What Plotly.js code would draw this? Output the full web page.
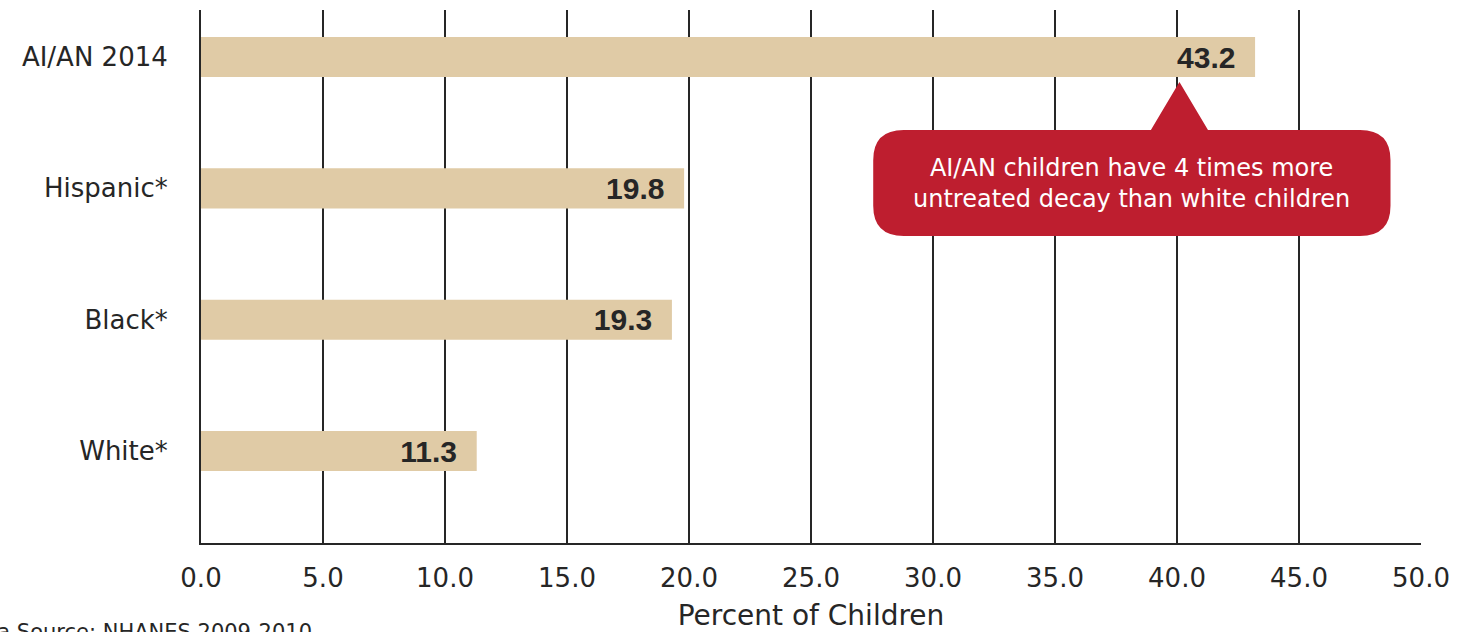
<!DOCTYPE html>
<html>
<head>
<meta charset="utf-8">
<script src="https://cdn.plot.ly/plotly-3.0.1.min.js"></script>
<style>html,body{margin:0;padding:0;background:#fff;}#chart{width:1461px;height:632px;}</style>
</head>
<body>
<div id="chart"></div>
<script>
// ---- data ----
const categories = ['AI/AN 2014', 'Hispanic*', 'Black*', 'White*'];
const values = [43.2, 19.8, 19.3, 11.3];
const xTickVals = [0, 5, 10, 15, 20, 25, 30, 35, 40, 45, 50];
const calloutLines = ['AI/AN children have 4 times more', 'untreated decay than white children'];
const sourceNote = 'Data Source: NHANES 2009-2010';
const axisTitle = 'Percent of Children';

// ---- styling ----
const ink = '#262626';
const barColor = '#E0CBA6';
const red = '#BE1E2F';
const sans = 'DejaVu Sans, Verdana, sans-serif';

const yPos = categories.map((c, i) => i);

// callout geometry in axis units
const bx0 = 27.55, bx1 = 48.75, by0 = 0.556, by1 = 1.363;
const rx = 1.25, ry = 0.23;
const tipX = 40.1, tipY = 0.19, tb0 = 38.93, tb1 = 41.27;
const calloutPath =
  `M ${bx0 + rx},${by0} L ${tb0},${by0} L ${tipX},${tipY} L ${tb1},${by0} L ${bx1 - rx},${by0} ` +
  `Q ${bx1},${by0} ${bx1},${by0 + ry} L ${bx1},${by1 - ry} Q ${bx1},${by1} ${bx1 - rx},${by1} ` +
  `L ${bx0 + rx},${by1} Q ${bx0},${by1} ${bx0},${by1 - ry} L ${bx0},${by0 + ry} Q ${bx0},${by0} ${bx0 + rx},${by0} Z`;

const trace = {
  type: 'bar',
  orientation: 'h',
  x: values,
  y: yPos,
  width: 0.305,
  marker: { color: barColor, line: { width: 0 } },
  text: values.map(v => v.toFixed(1)),
  texttemplate: '<b>%{text}</b>\u00a0\u00a0',
  textposition: 'inside',
  insidetextanchor: 'end',
  textangle: 0,
  constraintext: 'none',
  textfont: { family: 'Liberation Sans, Arial, sans-serif', size: 30, color: ink },
  hoverinfo: 'none'
};

const layout = {
  width: 1461,
  height: 632,
  margin: { l: 201, r: 40, t: 10, b: 89 },
  paper_bgcolor: '#ffffff',
  plot_bgcolor: '#ffffff',
  showlegend: false,
  font: { family: sans, color: ink },
  xaxis: {
    range: [0, 50],
    tickvals: xTickVals,
    tickformat: '.1f',
    showgrid: true,
    gridcolor: ink,
    gridwidth: 2,
    zeroline: false,
    showline: true,
    linecolor: ink,
    linewidth: 2,
    ticks: '',
    ticklabelstandoff: 11,
    tickfont: { family: sans, size: 26, color: ink },
    title: { text: axisTitle, font: { family: sans, size: 28, color: ink }, standoff: 14 },
    automargin: false,
    fixedrange: true
  },
  yaxis: {
    range: [3.70, -0.358],
    tickvals: yPos,
    ticktext: categories,
    showgrid: false,
    zeroline: false,
    showline: true,
    linecolor: ink,
    linewidth: 2,
    ticks: '',
    ticklabelstandoff: 26,
    tickfont: { family: sans, size: 26, color: ink },
    automargin: false,
    fixedrange: true
  },
  shapes: [{
    type: 'path',
    xref: 'x', yref: 'y',
    path: calloutPath,
    fillcolor: red,
    line: { width: 0 },
    layer: 'above'
  }],
  annotations: [{
    xref: 'x', yref: 'y',
    x: (bx0 + bx1) / 2,
    y: (by0 + by1) / 2,
    text: calloutLines.join('<br>'),
    showarrow: false,
    xanchor: 'center', yanchor: 'middle',
    align: 'center',
    font: { family: sans, size: 24, color: '#ffffff' }
  }, {
    xref: 'paper', yref: 'paper',
    x: 0.0926, y: -0.141,
    xanchor: 'right', yanchor: 'top',
    text: sourceNote,
    showarrow: false,
    font: { family: sans, size: 21, color: ink }
  }]
};

Plotly.newPlot('chart', [trace], layout, { displayModeBar: false, staticPlot: true });
</script>
</body>
</html>
